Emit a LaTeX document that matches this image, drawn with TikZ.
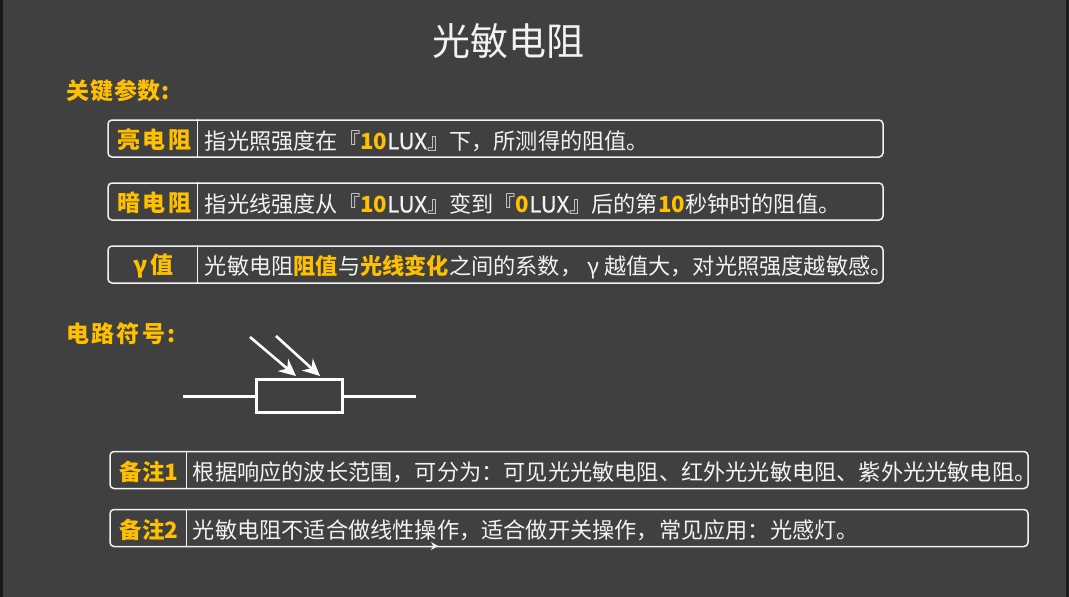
\documentclass[tikz,border=0pt]{standalone}
\usepackage{fontspec}
\setmainfont{Noto Sans CJK SC}
\newfontfamily\tagfont[LetterSpace=10]{Noto Sans CJK SC}
\newfontfamily\headfont[LetterSpace=4]{Noto Sans CJK SC}
\newfontfamily\luxfont[FakeBold=0.6]{Noto Sans CJK SC}
\usetikzlibrary{
  arrows.meta,
  positioning  % Function "of"
}
\definecolor{slide}{HTML}{404040}
\definecolor{gold}{HTML}{FFC000}
\definecolor{ink}{HTML}{F2F2F2}
\newcommand{\hl}[1]{{\bfseries\color{gold}#1}}
\newcommand{\lux}{{\luxfont LUX}}
\newcommand{\fc}{\symbol{"FF0C}}
\newcommand{\fk}{\symbol{"FF1A}}
\tikzset{
  font=\fontsize{22.2}{26}\selectfont,
  bar/.style={
    draw=ink,
    line width=1.5pt,
    rounded corners=4pt,
    minimum width=775pt,
    minimum height=37pt,
    inner sep=0pt
  },
  wide bar/.style={
    bar,
    minimum width=918pt
  },
  tag/.style={
    minimum width=#1,
    minimum height=37pt,
    inner sep=0pt,
    text=gold,
    font=\fontsize{23}{26}\selectfont\tagfont\bfseries
  },
  note tag/.style={
    tag=#1,
    font=\fontsize{22.5}{26}\selectfont\bfseries
  },
  desc/.style={
    text=ink,
    inner sep=0pt,
    node distance=5pt,
    yshift=-1pt
  },
  label text/.style={
    text=gold,
    inner sep=0pt,
    yshift=-1.5pt,
    xshift=#1
  },
  heading/.style={
    text=gold,
    anchor=west,
    inner sep=0pt,
    font=\fontsize{23}{26}\selectfont\headfont\bfseries
  },
  divider/.style={draw=ink,line width=1.5pt},
  wire/.style={draw=white,line width=3pt},
  ray/.style={-{Stealth[length=17pt,width=16pt]},draw=white,line width=2.6pt}
}
\begin{document}
\begin{tikzpicture}[x=1pt,y=-1pt]
\useasboundingbox (0,0) rectangle (1069,597);
\fill[black!90] (0,0) rectangle (1069,597);
\fill[slide] (3,0) rectangle (1066,597);
\node[text=ink,font=\fontsize{38}{42}\selectfont] (title) at (508.5,41) {光敏电阻};
\node[heading] (params) at (66,91) {关键参数:};
% rows of parameters
\node[bar]                  (bright) at (495.5,138.5) {};
\node[bar,below=24.5pt of bright] (dark) {};
\node[bar,below=24.5pt of dark]   (gamma) {};
\node[tag=90pt,anchor=west,label text=2pt] (brighttag) at (bright.west) {亮电阻};
\node[tag=90pt,anchor=west,label text=2pt] (darktag)   at (dark.west)   {暗电阻};
\node[tag=90pt,anchor=west,label text=1pt] (gammatag)  at (gamma.west)  {γ值};
\node[desc,right=of brighttag.east] {指光照强度在『\hl{10}\lux』下\fc 所测得的阻值。};
\node[desc,right=of darktag.east]   {指光线强度从『\hl{10}\lux』变到『\hl{0}\lux』后的第\hl{10}秒钟时的阻值。};
\node[desc,right=6pt of gammatag.east]  {光敏电阻\hl{阻值}与\hl{光线变化}之间的系数\fc{} γ 越值大\fc 对光照强度越敏感。};
\coordinate (brighttop) at ([xshift=90pt]bright.north west);
\coordinate (darktop)   at ([xshift=90pt]dark.north west);
\coordinate (gammatop)  at ([xshift=90pt]gamma.north west);
\draw[divider] (brighttop) -- (brighttop |- bright.south);
\draw[divider] (darktop) -- (darktop |- dark.south);
\draw[divider] (gammatop) -- (gammatop |- gamma.south);
% symbol
\node[heading,font=\fontsize{23}{26}\selectfont\tagfont\bfseries] (symbol) at (66,334) {电路符号:};
\node[wire,minimum width=86pt,minimum height=33pt,inner sep=0pt] (res) at (299.5,396) {};
\coordinate (lead1) at (183,396);
\coordinate (lead2) at (416,396);
\draw[wire] (lead1) -- (res);
\draw[wire] (res) -- (lead2);
\coordinate (ray1a) at (250,337);
\coordinate (ray1b) at (296,376);
\coordinate (ray2a) at (276,336);
\coordinate (ray2b) at (320,376);
\draw[ray] (ray1a) -- (ray1b);
\draw[ray] (ray2a) -- (ray2b);
% notes
\node[wide bar]                 (note1) at (569,470) {};
\node[wide bar,below=19.5pt of note1] (note2) {};
\node[note tag=77pt,anchor=west,label text=1pt] (note1tag) at (note1.west) {备注1};
\node[note tag=77pt,anchor=west,label text=1pt] (note2tag) at (note2.west) {备注2};
\node[desc,right=5pt of note1tag.east] {根据响应的波长范围\fc 可分为\fk 可见光光敏电阻、红外光光敏电阻、紫外光光敏电阻。};
\node[desc,right=5pt of note2tag.east] {光敏电阻不适合做线性操作\fc 适合做开关操作\fc 常见应用\fk 光感灯。};
\coordinate (note1top) at ([xshift=77pt]note1.north west);
\coordinate (note2top) at ([xshift=77pt]note2.north west);
\draw[divider] (note1top) -- (note1top |- note1.south);
\draw[divider] (note2top) -- (note2top |- note2.south);
\coordinate (tipa) at (428,546);
\coordinate (tipb) at (438,546);
\draw[-{Stealth[length=7pt,width=8pt]},draw=ink,line width=1pt] (tipa) -- (tipb);
\end{tikzpicture}
\end{document}
